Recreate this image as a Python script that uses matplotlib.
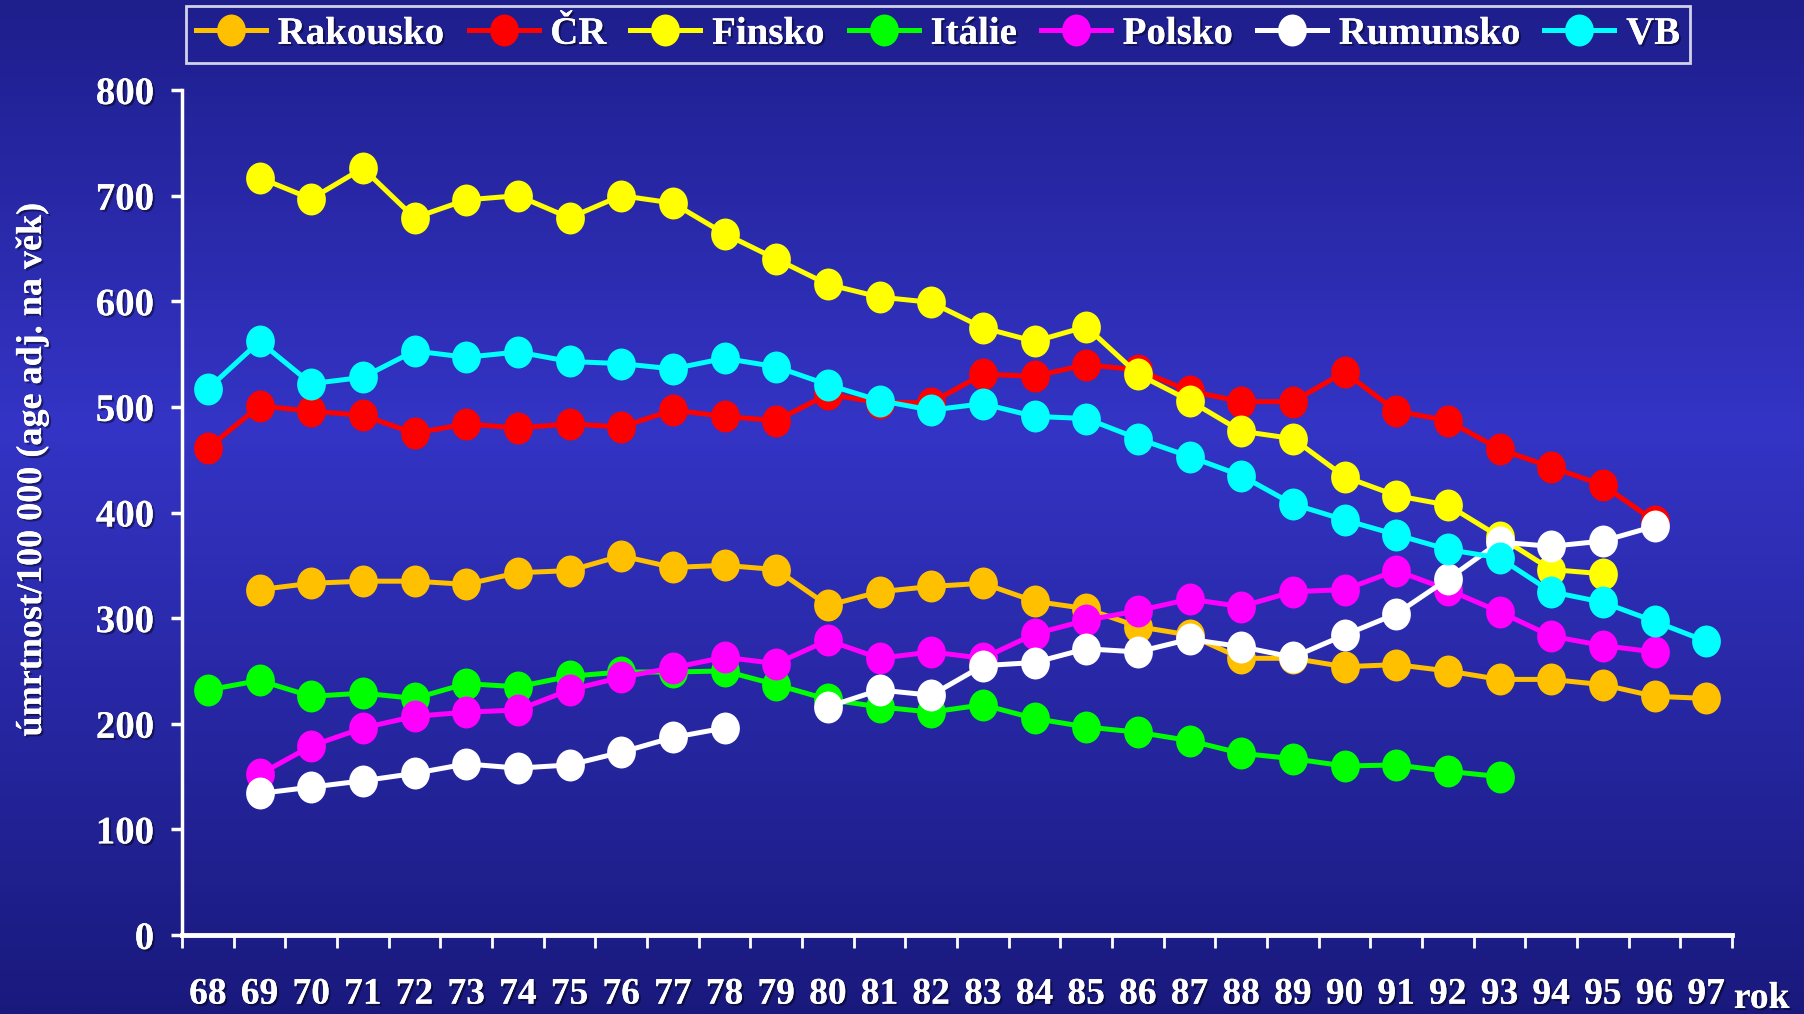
import numpy as np
import matplotlib
matplotlib.use("Agg")
import matplotlib.pyplot as plt
import matplotlib.patheffects as pe
from matplotlib.path import Path

roky = ["68", "69", "70", "71", "72", "73", "74", "75", "76", "77",
        "78", "79", "80", "81", "82", "83", "84", "85", "86", "87",
        "88", "89", "90", "91", "92", "93", "94", "95", "96", "97"]

N = None
rakousko = [N, 327, 333, 335, 335, 332, 343, 345, 359, 348,
            350, 346, 312, 325, 330, 333, 316, 309, 292, 284,
            262, 262, 254, 256, 250, 242, 242, 237, 226, 224]
cr = [461, 501, 496, 492, 475, 484, 480, 484, 481, 497,
      491, 487, 512, 504, 504, 531, 529, 540, 535, 515,
      505, 505, 533, 496, 487, 460, 443, 426, 392, N]
finsko = [N, 717, 697, 726, 679, 696, 700, 679, 700, 693,
          664, 640, 616, 604, 599, 575, 562, 576, 531, 506,
          477, 470, 434, 416, 407, 377, 346, 342, N, N]
italie = [232, 241, 226, 229, 224, 238, 235, 245, 249, 249,
          250, 237, 223, 216, 211, 218, 205, 197, 192, 184,
          172, 167, 160, 161, 155, 150, N, N, N, N]
polsko = [N, 152, 179, 196, 207, 211, 213, 232, 244, 253,
          263, 257, 279, 262, 268, 262, 285, 298, 307, 318,
          311, 325, 327, 345, 327, 306, 283, 274, 268, N]
rumunsko = [N, 134, 140, 146, 153, 162, 158, 161, 173, 187,
            196, N, 216, 232, 227, 255, 258, 271, 268, 280,
            273, 263, 284, 304, 337, 372, 368, 373, 387, N]
vb = [517, 562, 522, 528, 553, 547, 552, 543, 541, 536,
      546, 538, 521, 506, 497, 503, 491, 489, 470, 453,
      435, 408, 393, 379, 365, 357, 325, 315, 297, 278]

serie = [
    ("Rakousko", rakousko, "#FFC000"),
    ("ČR", cr, "#FF0000"),
    ("Finsko", finsko, "#FFFF00"),
    ("Itálie", italie, "#00FF00"),
    ("Polsko", polsko, "#FF00FF"),
    ("Rumunsko", rumunsko, "#FFFFFF"),
    ("VB", vb, "#00FFFF"),
]

plt.rcParams["font.family"] = ["Liberation Serif", "DejaVu Serif"]
plt.rcParams["font.weight"] = "bold"

stin = [pe.withSimplePatchShadow(offset=(1.5, -1.5), shadow_rgbFace="black", alpha=0.45), pe.Normal()]

fig = plt.figure(figsize=(18.04, 10.14), dpi=100)

# pozadi - svisly prechod
bg = fig.add_axes([0, 0, 1, 1], zorder=-10)
t = np.linspace(0, 1, 512)
top = np.array([30, 30, 140]) / 255
mid = np.array([52, 52, 198]) / 255
bot = np.array([25, 25, 125]) / 255
grad = np.where(t[:, None] < 0.42,
                top + (mid - top) * (t[:, None] / 0.42),
                mid + (bot - mid) * ((t[:, None] - 0.42) / 0.58))
bg.imshow(grad[:, None, :], aspect="auto", extent=[0, 1, 1, 0])
bg.axis("off")

ax = fig.add_axes([0.1009, 0.0779, 0.9601 - 0.1009, 0.9112 - 0.0779])
ax.patch.set_alpha(0)

circ = Path.unit_circle()
elipsa = Path(circ.vertices * [0.9, 1.0], circ.codes)

x = np.arange(len(roky))
for nazev, hodnoty, barva in serie:
    y = np.array(hodnoty, dtype=float)
    ax.plot(x, y, color=barva, lw=3.6, marker=elipsa, ms=23,
            markeredgewidth=0, label=nazev)

ax.set_xlim(-0.5, len(roky) - 0.5)
ax.set_ylim(0, 800)
ax.set_yticks(np.arange(0, 801, 100))
ax.set_xticks(np.arange(-0.5, len(roky), 1))
ax.set_xticklabels([])
ax.set_xticks(x, minor=True)
ax.set_xticklabels(roky, minor=True)

for s in ["top", "right"]:
    ax.spines[s].set_visible(False)
ax.spines["left"].set_color("white")
ax.spines["left"].set_linewidth(2.5)
ax.spines["bottom"].set_color("white")
ax.spines["bottom"].set_linewidth(3.5)

ax.tick_params(axis="y", colors="white", length=8, width=2.5, pad=12, labelsize=28)
ax.tick_params(axis="x", which="major", colors="white", length=9, width=2)
ax.tick_params(axis="x", which="minor", colors="white", length=0, pad=30, labelsize=27)
for lab in ax.get_yticklabels() + ax.get_xticklabels(minor=True):
    lab.set_path_effects(stin)

fig.text(0.9765, 0.006, "rok", color="white", fontsize=27, ha="center", va="baseline",
         path_effects=stin)
fig.text(0.018, 0.537, "úmrtnost/100 000 (age adj. na věk)", color="white",
         fontsize=26, rotation=90, ha="center", va="center", path_effects=stin)

leg = fig.legend(loc="upper center", bbox_to_anchor=(0.52, 0.994), ncol=7,
                 frameon=True, fancybox=False, edgecolor="white",
                 facecolor="none", fontsize=28, handlelength=1.8,
                 handletextpad=0.3, columnspacing=0.62, borderpad=0.25,
                 borderaxespad=0)
leg.get_frame().set_linewidth(2)
for txt in leg.get_texts():
    txt.set_color("white")
    txt.set_path_effects(stin)

fig.savefig("out.png", dpi=100)
